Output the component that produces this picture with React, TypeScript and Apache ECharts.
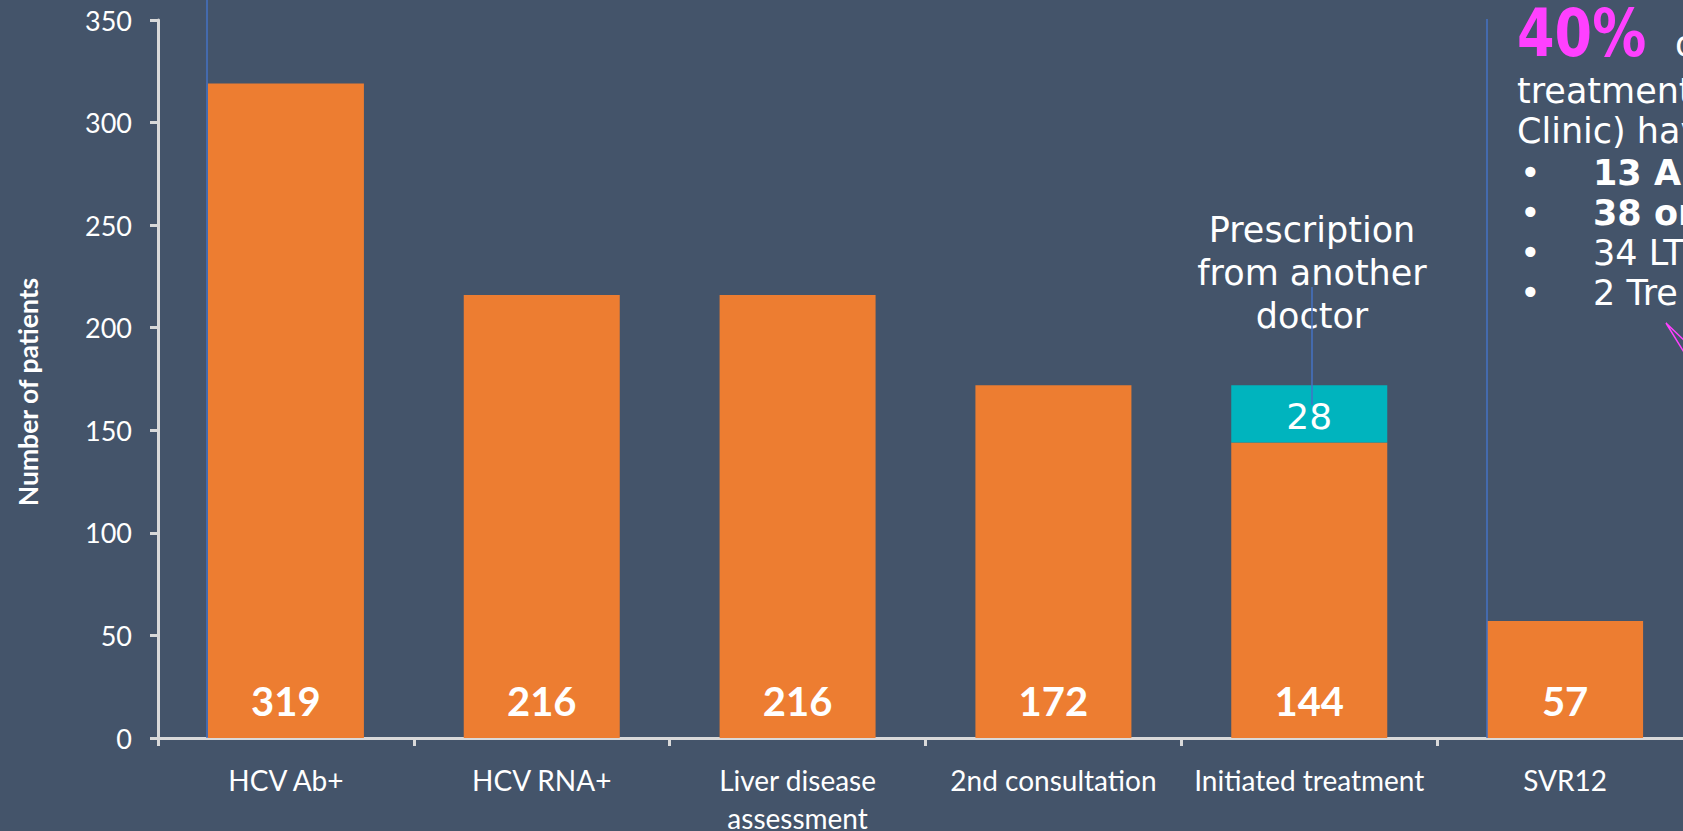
import React, { useEffect, useRef } from "react";
import * as echarts from "echarts";

const categories = ["HCV Ab+", "HCV RNA+", "Liver disease\nassessment", "2nd consultation", "Initiated treatment", "SVR12"];
const mainValues = [319, 216, 216, 172, 144, 57];
const otherDoctorValues = [null, null, null, null, 28, null];
const yTicks = { min: 0, max: 350, interval: 50 };

const BG = "#44546A";
const ORANGE = "#ED7D31";
const TEAL = "#00B4BE";
const AXIS = "#D9D9D9";
const BLUE = "#4472C4";
const MAGENTA = "#FF40FF";
const SANS = "Lato, 'Open Sans', sans-serif";
const COMIC = "'Comic Sans MS', 'DejaVu Sans', sans-serif";

export default function App() {
  const ref = useRef<HTMLDivElement>(null);
  useEffect(() => {
    document.body.style.margin = "0";
    document.body.style.overflow = "hidden";
    const chart = echarts.init(ref.current!, null, { renderer: "svg" });
    const rightText = (text: string, x: number, bottom: number, bold = false) => ({
      type: "text",
      x,
      y: bottom,
      style: {
        text,
        fill: "#FFFFFF",
        font: `${bold ? "bold " : ""}35px ${COMIC}`,
        verticalAlign: "bottom",
      },
    });
    chart.setOption({
      animation: false,
      backgroundColor: BG,
      grid: { left: 158, right: -10, top: 20, bottom: 93, containLabel: false, outerBoundsMode: "none" },
      xAxis: {
        type: "category",
        data: categories,
        axisLine: { lineStyle: { color: AXIS, width: 3 } },
        axisTick: { show: true, length: 8, lineStyle: { color: AXIS, width: 3 } },
        axisLabel: {
          interval: 0,
          color: "#FFFFFF",
          fontFamily: SANS,
          fontSize: 28,
          lineHeight: 38,
          margin: 23,
        },
      },
      yAxis: {
        type: "value",
        min: yTicks.min,
        max: yTicks.max,
        interval: yTicks.interval,
        name: "Number of patients",
        nameLocation: "middle",
        nameGap: 117,
        nameTextStyle: {
          color: "#FFFFFF",
          fontFamily: SANS,
          fontSize: 26.5,
          fontWeight: "bold",
          padding: [0, 26, 0, 0],
        },
        splitLine: { show: false },
        axisLine: { show: true, lineStyle: { color: AXIS, width: 3 } },
        axisTick: { show: true, length: 8, lineStyle: { color: AXIS, width: 3 } },
        axisLabel: { color: "#FFFFFF", fontFamily: SANS, fontSize: 27, margin: 26 },
      },
      series: [
        {
          type: "bar",
          stack: "total",
          data: mainValues,
          barWidth: 156,
          itemStyle: { color: ORANGE },
          label: {
            show: true,
            position: "insideBottom",
            distance: 17,
            color: "#FFFFFF",
            fontFamily: SANS,
            fontWeight: "bold",
            fontSize: 40,
          },
        },
        {
          type: "bar",
          stack: "total",
          data: otherDoctorValues,
          barWidth: 156,
          itemStyle: { color: TEAL },
          label: {
            show: true,
            position: "inside",
            offset: [0, 3],
            color: "#FFFFFF",
            fontFamily: COMIC,
            fontSize: 36,
          },
        },
      ],
      graphic: [
        { type: "line", shape: { x1: 207, y1: 0, x2: 207, y2: 738 }, style: { stroke: BLUE, lineWidth: 1.5 }, z: 10 },
        { type: "line", shape: { x1: 1487, y1: 19, x2: 1487, y2: 738 }, style: { stroke: BLUE, lineWidth: 1.5 }, z: 10 },
        { type: "line", shape: { x1: 1312, y1: 287, x2: 1312, y2: 405 }, style: { stroke: BLUE, lineWidth: 1.5 }, z: 10 },
        {
          type: "text",
          x: 1312,
          y: 273,
          z: 9,
          style: {
            text: "Prescription\nfrom another\ndoctor",
            fill: "#FFFFFF",
            font: `35px ${COMIC}`,
            lineHeight: 43,
            align: "center",
            verticalAlign: "middle",
          },
        },
        {
          type: "text",
          x: 1517,
          y: 66,
          scaleY: 1.22,
          style: {
            text: "40%",
            fill: MAGENTA,
            font: `bold 54px ${COMIC}`,
            verticalAlign: "bottom",
          },
        },
        rightText("of", 1675, 61),
        rightText("treatment", 1517, 108),
        rightText("Clinic) hav", 1517, 148),
        rightText("•", 1520, 190),
        rightText("•", 1520, 230),
        rightText("•", 1520, 270),
        rightText("•", 1520, 310),
        rightText("13 Au", 1593, 190, true),
        rightText("38 or", 1593, 230, true),
        rightText("34 LT", 1593, 270),
        rightText("2 Tre", 1593, 310),
        {
          type: "polyline",
          shape: { points: [[1690, 362], [1666, 323], [1690, 346]] },
          style: { stroke: MAGENTA, lineWidth: 1.5, fill: "none" },
        },
      ],
    });
    return () => chart.dispose();
  }, []);
  return <div ref={ref} style={{ width: 1683, height: 831 }} />;
}
